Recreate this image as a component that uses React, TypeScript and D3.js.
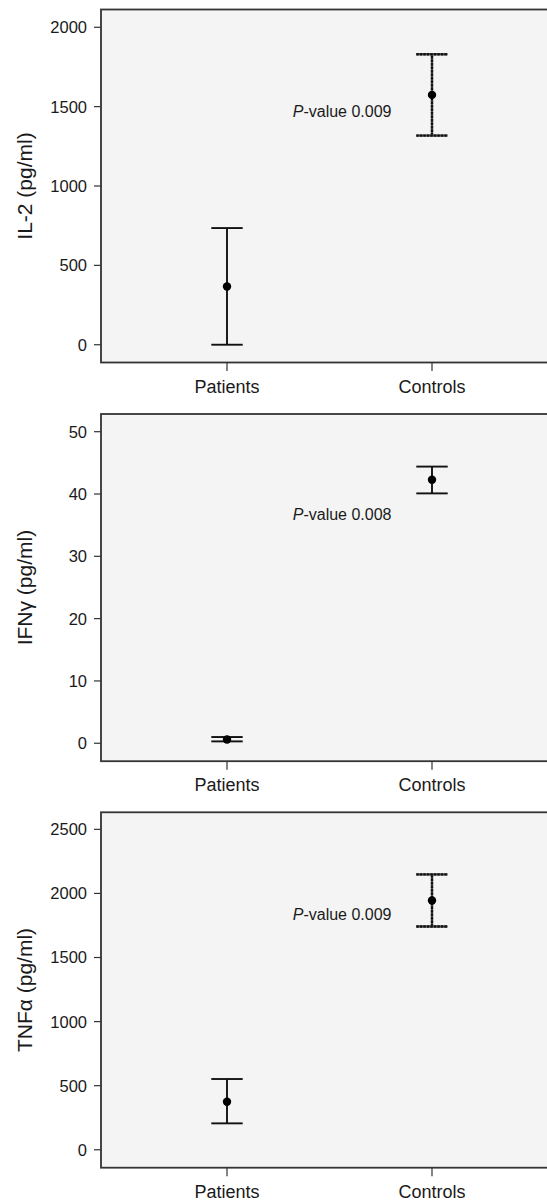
import React from "react";
import * as d3 from "d3";

const categories = ["Patients", "Controls"];

const il2Mean = [367, 1574];
const il2Lower = [0, 1318];
const il2Upper = [735, 1830];
const il2Ticks = [0, 500, 1000, 1500, 2000];

const ifnMean = [0.6, 42.3];
const ifnLower = [0.3, 40.1];
const ifnUpper = [1.0, 44.4];
const ifnTicks = [0, 10, 20, 30, 40, 50];

const tnfMean = [375, 1945];
const tnfLower = [206, 1742];
const tnfUpper = [552, 2148];
const tnfTicks = [0, 500, 1000, 1500, 2000, 2500];

const panels = [
  { label: "IL-2 (pg/ml)", pLabel: "0.009", pY: 1436, mean: il2Mean, lower: il2Lower, upper: il2Upper, ticks: il2Ticks, domain: [-112, 2112], top: 9.5, bottom: 362.5, dashedControls: true },
  { label: "IFNγ (pg/ml)", pLabel: "0.008", pY: 35.85, mean: ifnMean, lower: ifnLower, upper: ifnUpper, ticks: ifnTicks, domain: [-2.88, 52.84], top: 414, bottom: 761.2, dashedControls: false },
  { label: "TNFα (pg/ml)", pLabel: "0.009", pY: 1795, mean: tnfMean, lower: tnfLower, upper: tnfUpper, ticks: tnfTicks, domain: [-140, 2633], top: 812.3, bottom: 1167.7, dashedControls: true },
];

const FONT = "'Liberation Sans', Arial, Helvetica, sans-serif";
const LEFT = 101;

function Panel({ p }: { p: any }) {
  const x = d3.scalePoint<string>().domain(categories).range([227, 432]);
  const y = d3.scaleLinear().domain(p.domain).range([p.bottom, p.top]);
  const cap = 15.7;
  return (
    <g>
      <rect x={LEFT} y={p.top} width={470} height={p.bottom - p.top} fill="#f4f4f4" stroke="#343434" strokeWidth={1.8} />
      {p.ticks.map((t: number) => (
        <g key={t}>
          <line x1={LEFT - 7} x2={LEFT} y1={y(t)} y2={y(t)} stroke="#333" strokeWidth={1.2} />
          <text x={LEFT - 14} y={y(t)} dy="0.36em" textAnchor="end" fontFamily={FONT} fontSize={16.5} fill="#1a1a1a">{t}</text>
        </g>
      ))}
      {categories.map((c) => (
        <g key={c}>
          <line x1={x(c)} x2={x(c)} y1={p.bottom} y2={p.bottom + 8.5} stroke="#333" strokeWidth={1.2} />
          <text x={x(c)} y={p.bottom + 30} textAnchor="middle" fontFamily={FONT} fontSize={18} fill="#1a1a1a">{c}</text>
        </g>
      ))}
      <text transform={`translate(24,${(p.top + p.bottom) / 2}) rotate(-90)`} textAnchor="middle" dominantBaseline="central" fontFamily={FONT} fontSize={21} fill="#1a1a1a">{p.label}</text>
      {categories.map((c, i) => {
        const cx = x(c) as number;
        const dashed = p.dashedControls && i === 1;
        const lines = [
          { x1: cx, x2: cx, y1: y(p.lower[i]), y2: y(p.upper[i]) },
          { x1: cx - cap, x2: cx + cap, y1: y(p.upper[i]), y2: y(p.upper[i]) },
          { x1: cx - cap, x2: cx + cap, y1: y(p.lower[i]), y2: y(p.lower[i]) },
        ];
        return (
          <g key={c}>
            {lines.map((l, k) => (
              <g key={k}>
                <line {...l} stroke={dashed ? "#555" : "#111"} strokeWidth={dashed ? 2.3 : 1.9} />
                {dashed && <line {...l} stroke="#111" strokeWidth={2.3} strokeDasharray="2.5 1" />}
              </g>
            ))}
            <circle cx={cx} cy={y(p.mean[i])} r={4.2} fill="#000" />
          </g>
        );
      })}
      <text x={(x("Controls") as number) - 40.5} y={y(p.pY)} textAnchor="end" fontFamily={FONT} fontSize={16} fill="#1a1a1a">
        <tspan fontStyle="italic">P</tspan>-value {p.pLabel}
      </text>
    </g>
  );
}

export default function App() {
  return (
    <svg width={547} height={1201} style={{ position: "absolute", left: 0, top: 0, background: "#fff" }}>
      <rect x={0} y={0} width={547} height={1201} fill="#fff" />
      {panels.map((p, i) => (
        <Panel key={i} p={p} />
      ))}
    </svg>
  );
}
